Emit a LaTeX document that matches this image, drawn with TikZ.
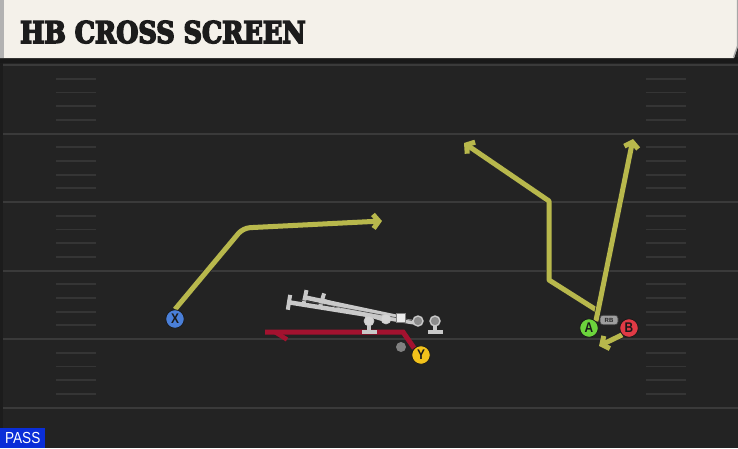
\documentclass[tikz,border=0pt]{standalone}
\usepackage{fontspec}
\setmainfont{Liberation Sans}
\newfontfamily\titlefont{DejaVu Serif}[FakeStretch=0.85, BoldFeatures={FakeBold=5}]
\newfontfamily\condfont{Liberation Sans}[FakeStretch=0.85]
\usetikzlibrary{arrows.meta,calc}
\definecolor{fieldbg}{HTML}{232323}
\definecolor{yardc}{HTML}{3A3A3A}
\definecolor{hashc}{HTML}{353535}
\definecolor{titlebg}{HTML}{F4F1EA}
\definecolor{titletext}{HTML}{1C1C1C}
\definecolor{routec}{HTML}{B8B84C}
\definecolor{redroute}{HTML}{A3122F}
\definecolor{olgray}{HTML}{C9C9C9}
\definecolor{oldark}{HTML}{A0A0A0}
\definecolor{pblue}{HTML}{4A7FD8}
\definecolor{pyellow}{HTML}{F2C21B}
\definecolor{pgreen}{HTML}{6CD43C}
\definecolor{pred}{HTML}{E03A45}
\definecolor{passblue}{HTML}{0A2ED8}
\pgfdeclarelayer{fieldlayer}
\pgfdeclarelayer{routelayer}
\pgfsetlayers{fieldlayer,routelayer,main}
\tikzset{
  yard/.style={draw=yardc, line width=2pt},
  hash/.style={draw=hashc, line width=1.8pt},
  route/.style={draw=routec, line width=5pt, line join=round,
    preaction={draw=black!85, line width=6.5pt}},
  routearrow/.style={-{Straight Barb[length=5.5pt,width=14pt]}},
  redline/.style={draw=redroute, line width=5pt, line join=miter},
  block/.style={draw=olgray, line width=4.5pt},
  blockT/.style={-{Bar[width=15pt,line width=4pt]}},
  player/.style={circle, draw=black!90, line width=0.8pt, minimum size=18.5pt,
    inner sep=0pt, font=\condfont\bfseries\fontsize{14}{14}\selectfont, text=black!90},
  lineman/.style={circle, fill=olgray, draw=oldark, line width=0.6pt, minimum size=10pt, inner sep=0pt},
  rbtag/.style={fill=black!38, draw=black!75, line width=0.6pt, rounded corners=3pt,
    minimum width=18pt, minimum height=9.5pt, inner sep=0pt,
    font=\bfseries\fontsize{6}{6}\selectfont, text=black!85},
}
\begin{document}
\begin{tikzpicture}[x=1pt,y=-1pt]
\useasboundingbox (0,0) rectangle (738,448);
\begin{pgfonlayer}{fieldlayer}
% field
\fill[fieldbg] (0,0) rectangle (738,448);
\fill[black!20!fieldbg] (0,62) rectangle (3,448);
\foreach \yl in {65,133.5,202,270.5,339,407.5}
  \draw[yard] (3,\yl) -- (738,\yl);
\foreach \yl in {65,133.5,202,270.5,339}
  \foreach \k in {1,2,3,4} {
    \draw[hash] (56,{\yl+13.7*\k}) -- (96,{\yl+13.7*\k});
    \draw[hash] (646,{\yl+13.7*\k}) -- (686,{\yl+13.7*\k});
  }
% title bar
\fill[black!90] (0,57) rectangle (738,62.5);
\fill[titlebg] (0,0) -- (738,0) -- (738,46) -- (734,58) -- (0,58) -- cycle;
\draw[black!35, line width=1.2pt] (737.4,0) -- (737.4,46) -- (733.5,57.5);
\fill[black!30] (0,0) rectangle (3.5,58);
\end{pgfonlayer}
\node[anchor=base west, inner sep=0pt, text=titletext] (title) at (20,43)
  {\titlefont\bfseries\fontsize{30}{30}\selectfont HB CROSS SCREEN};
% PASS label
\node[fill=passblue, text=white, anchor=south west, inner sep=0pt,
  minimum width=45pt, minimum height=20pt,
  font=\condfont\fontsize{16}{16}\selectfont] (pass) at (0,448) {PASS};

% players
\node[player, fill=pblue] (X) at (175,319) {X};
\node[player, fill=pyellow] (Y) at (421,355) {Y};
\node[player, fill=pgreen] (A) at (589,328) {A};
\node[player, fill=pred] (B) at (629,328) {B};
\node[rbtag] (RB) at (609,320) {RB};

\begin{pgfonlayer}{routelayer}
% red route (Y)
\coordinate (ybend) at (403,332);
\coordinate (yend) at (265,332);
\draw[redline] (Y.north west) -- (ybend) -- (yend);
\coordinate (barbA) at (275,332);
\coordinate (barbB) at (287,339.5);
\draw[draw=redroute, line width=4.5pt] (barbA) -- (barbB);

% X route
\coordinate (xb) at (243,228);
\coordinate (xe) at (382,221);
\draw[route, routearrow, rounded corners=7pt] (X.north) -- (xb) -- (xe);

% A routes
\coordinate (a1) at (598,311);
\coordinate (a2) at (549,280);
\coordinate (a3) at (549,201);
\coordinate (a4) at (464,143);
\coordinate (a5) at (633,139);
\draw[route, routearrow] (a1) -- (a2) -- (a3) -- (a4);
\draw[route, routearrow] (A.north east) -- (a1) -- (a5);
% B route
\coordinate (be) at (599,346);
\draw[route, routearrow] (B.south west) -- (be);
\end{pgfonlayer}

% offensive line
\coordinate (t1) at (369,334);
\coordinate (t5) at (435,334);
\coordinate (ta) at (287,302);
\coordinate (tb) at (303,297);
\coordinate (tc) at (320,300);
\draw[block, blockT] (418,323) -- (ta);
\draw[block, blockT] (402,318) -- (tb);
\draw[block, blockT] (386,320) -- (tc);
\draw[draw=black!70, line width=0.6pt] (412,320.5) -- (300,300);
\draw[block, blockT] (369,321) -- (t1);
\draw[block, blockT] (435,321) -- (t5);
\node[lineman, fill=olgray!80, draw=olgray] (ol1) at (369,321) {};
\node[lineman, fill=olgray!80, draw=olgray] (ol2) at (386,319) {};
\node[rectangle, fill=white!92!black, draw=black!50, line width=0.5pt, minimum size=9pt, inner sep=0pt] (C) at (401,318) {};
\node[lineman, fill=black!45, draw=olgray, line width=1.4pt] (ol4) at (418,321) {};
\node[lineman, fill=black!45, draw=olgray, line width=1.4pt] (ol5) at (435,321) {};
\node[circle, fill=black!50, minimum size=10pt, inner sep=0pt] (qb) at (401,347) {};
\end{tikzpicture}
\end{document}
